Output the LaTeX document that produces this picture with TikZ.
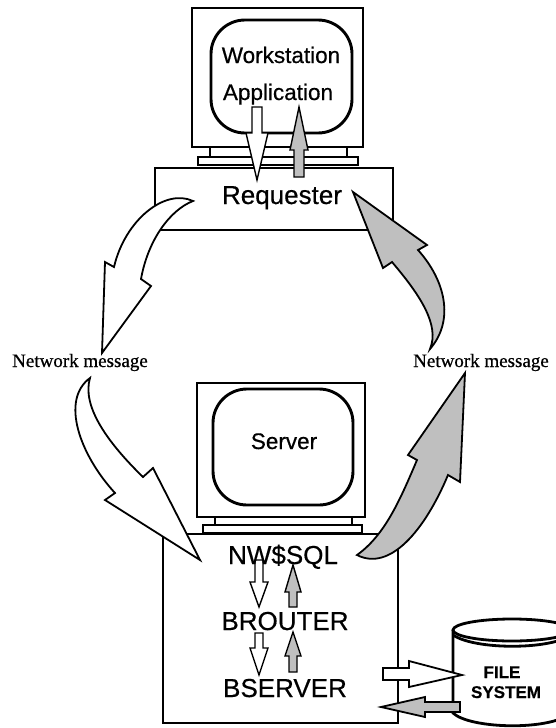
\documentclass[tikz,border=0pt]{standalone}
\usepackage{fontspec}
\setmainfont{Liberation Sans}[FakeBold=0.5]
\newfontfamily\heavysans{Liberation Sans}[FakeBold=0.5]
\newfontfamily\notefont{Liberation Serif}[FakeBold=0.6]
\begin{document}
\begin{tikzpicture}[x=1pt,y=-1pt,
  frame/.style={line width=2.8pt, line join=miter},
  screen/.style={line width=2.9pt, rounded corners=34pt},
  whitearrow/.style={draw, fill=white, line width=1.8pt, line join=miter},
  grayarrow/.style={draw, fill=gray!50, line width=1.8pt, line join=miter},
  smallwhite/.style={draw, fill=white, line width=1.4pt},
  smallgray/.style={draw, fill=gray!50, line width=1.4pt},
  big/.style={font=\heavysans\addfontfeature{FakeBold=0.5}\fontsize{26}{28}\selectfont, anchor=base, inner sep=0pt},
  mid/.style={font=\heavysans\addfontfeature{FakeBold=0.5}\fontsize{22.5}{24}\selectfont, anchor=base, inner sep=0pt},
  disk/.style={font=\heavysans\bfseries\fontsize{17}{18}\selectfont, anchor=base, inner sep=0pt},
  note/.style={font=\notefont\addfontfeature{FakeBold=0.6}\fontsize{19}{20}\selectfont, anchor=base, inner sep=0pt}]
\useasboundingbox (0,0) rectangle (556,728);

% workstation monitor and requester box
\draw[frame] (192,8) rectangle (363,147);
\draw[screen] (211,20) rectangle (352,133);
\draw[frame] (210,147) -- (210,157) (347,147) -- (347,157);
\draw[frame] (198,157) rectangle (358,165);
\draw[frame] (155,168) rectangle (393,230);

% server monitor and server box
\draw[frame] (197,383) rectangle (365,517);
\draw[screen] (213,389) rectangle (353,505);
\draw[frame] (215,517) -- (215,525) (352,517) -- (352,525);
\draw[frame] (203,525) rectangle (362,533);
\draw[frame] (163,534) rectangle (398,723);

% file system cylinder
\draw[frame] (453,630) -- (453,713) .. controls (470,729) and (550,731) .. (571,713);
\draw[frame] (512,630) ellipse [x radius=59, y radius=11];
\draw[frame] (453,635) .. controls (475,650) and (550,650) .. (571,635);

% network message arrows
\draw[whitearrow] (193,201) .. controls (165,188) and (125,220) .. (114,267)
  -- (105,262) -- (102,353) -- (151,286) -- (141,279)
  .. controls (148,240) and (170,210) .. (193,201) -- cycle;
\draw[grayarrow] (353,192) -- (427,245) -- (418,250)
  .. controls (445,280) and (455,320) .. (430,349)
  .. controls (440,325) and (420,295) .. (392,262) -- (383,268) -- cycle;
\draw[whitearrow] (90,378) .. controls (60,400) and (80,455) .. (115,493)
  -- (105,500) -- (200,560) -- (153,468) -- (143,477)
  .. controls (105,440) and (82,405) .. (90,378) -- cycle;
\draw[grayarrow] (465,373) -- (460,482) -- (448,475)
  .. controls (425,530) and (390,572) .. (357,555)
  .. controls (385,535) and (400,500) .. (417,460) -- (408,455) -- cycle;

% application <-> requester
\draw[smallwhite] (252,107) -- (262,107) -- (262,133) -- (268,133) -- (257,180)
  -- (246,133) -- (252,133) -- cycle;
\draw[smallgray] (299,107) -- (308,150) -- (304,150) -- (304,177) -- (294,177)
  -- (294,150) -- (290,150) -- cycle;

% NW$SQL <-> BROUTER <-> BSERVER
\draw[smallwhite] (255,560) -- (263,560) -- (263,582) -- (268,582) -- (259,607)
  -- (250,582) -- (255,582) -- cycle;
\draw[smallgray] (293,565) -- (301,592) -- (297,592) -- (297,607) -- (289,607)
  -- (289,592) -- (285,592) -- cycle;
\draw[smallwhite] (255,633) -- (263,633) -- (263,648) -- (268,648) -- (259,675)
  -- (250,648) -- (255,648) -- cycle;
\draw[smallgray] (293,632) -- (301,656) -- (297,656) -- (297,672) -- (289,672)
  -- (289,656) -- (285,656) -- cycle;

% BSERVER <-> file system
\draw[whitearrow] (383,668) -- (409,668) -- (409,661) -- (462,675) -- (409,687)
  -- (409,680) -- (383,680) -- cycle;
\draw[grayarrow] (381,707) -- (425,697) -- (425,702) -- (460,702) -- (460,712)
  -- (425,712) -- (425,717) -- cycle;

% labels
\node[mid] (ws) at (281,63) {Workstation};
\node[mid] (app) at (278,100) {Application};
\node[big] (req) at (282,204) {Requester};
\node[mid] (srv) at (284,449) {Server};
\node[big] (nw) at (283,564) {NW\$SQL};
\node[big] (brouter) at (285,630) {BROUTER};
\node[big] (bserver) at (285,697) {BSERVER};
\node[disk] (file) at (502,678) {FILE};
\node[disk] (sys) at (506,698) {SYSTEM};
\node[note] (msgl) at (80,367) {Network message};
\node[note] (msgr) at (481,367) {Network message};
\end{tikzpicture}
\end{document}
